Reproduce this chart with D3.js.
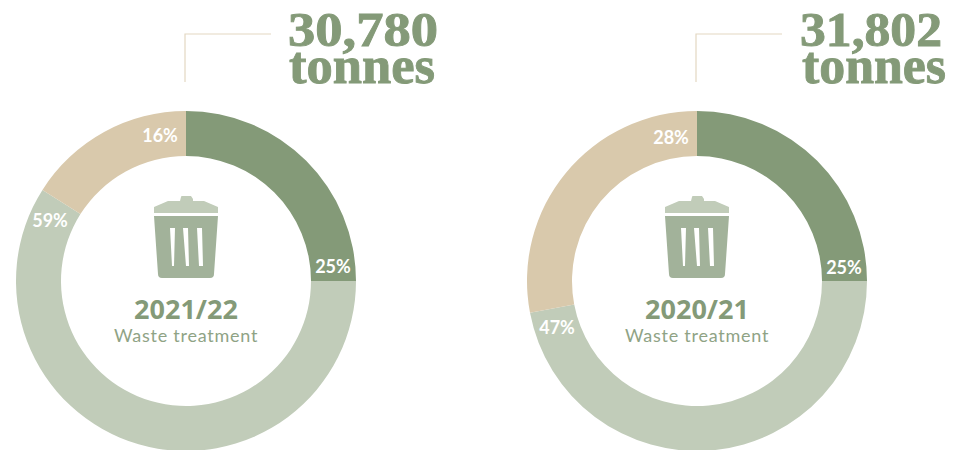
<!DOCTYPE html>
<html><head><meta charset="utf-8">
<script src="https://cdn.jsdelivr.net/npm/d3@7"></script>
<style>html,body{margin:0;padding:0;background:#fff}svg{display:block}</style>
</head><body><svg id="c" width="961" height="450"></svg>
<script>
const categories = ["Treatment A","Treatment B","Treatment C"];
const years = ["2021/22","2020/21"];
const caption = "Waste treatment";
const valuesA = [25,59,16];
const valuesB = [25,47,28];
const totals = ["30,780","31,802"];
const unit = "tonnes";
const colours = ["#849a78","#c1ccb9","#d9c9ac"];
const svg = d3.select("#c");
const R=170, r0=125;
const color = d3.scaleOrdinal(categories, colours);
const pie = d3.pie().sort(null);
const arc = d3.arc().innerRadius(r0).outerRadius(R);
function donut(cx, values, year, total, i){
  const g = svg.append("g").attr("transform",`translate(${cx},281)`);
  const arcs = pie(values);
  g.selectAll("path.s").data(arcs).join("path").attr("class","s")
    .attr("d",arc).attr("fill",(d,k)=>color(categories[k]));
  const lab = i===0
    ? [[147,-14],[-136,-60],[-26,-145]]
    : [[147,-13],[-140,47],[-26,-143]];
  g.selectAll("text.p").data(arcs).join("text").attr("class","p")
    .attr("x",(d,k)=>lab[k][0]).attr("y",(d,k)=>lab[k][1]+6)
    .attr("text-anchor","middle").attr("font-family","Lato, sans-serif")
    .attr("font-weight",700).attr("font-size",18).attr("fill","#fff")
    .text(d=>d.data+"%");
  g.append("path").attr("d","M85,-247H-1V-199").attr("fill","none").attr("stroke","#e3d8c2").attr("stroke-width",1.2);
  const t = g.append("g").attr("font-family","'Liberation Serif', serif").attr("font-weight",700)
    .attr("fill","#849a78").attr("stroke","#849a78").attr("stroke-width",0.9);
  t.append("text").attr("font-size",48).attr("x",i?103:102).attr("y",-235).attr("textLength",i?142:150).attr("lengthAdjust","spacingAndGlyphs").text(total);
  t.append("text").attr("font-size",52).attr("x",i?105:103).attr("y",-198).attr("textLength",i?144:146).attr("lengthAdjust","spacingAndGlyphs").text(unit);
  const ic = g.append("g");
  ic.append("path").attr("fill","#c1ccb9").attr("d","M-32,-72V-74L-18,-80H-6L-5,-84Q-5,-85 -4,-85H5L7,-82V-79H-1V-80H18L32,-74V-68H-32Z");
  ic.append("path").attr("fill","#a2b29a").attr("d","M-32,-65H32L28,-7Q28,-3 24,-3H-24Q-28,-3 -28,-7Z");
  ic.append("path").attr("fill","#fff").attr("d","M-16,-53H-11L-12,-15H-14ZM-3,-53H2L3,-15H0ZM11,-53H16L17,-15H13Z");
  g.append("text").attr("y",38).attr("text-anchor","middle").attr("font-family","'Open Sans', sans-serif").attr("font-weight",700).attr("font-size",27).attr("fill","#849a78").text(year);
  g.append("text").attr("y",61).attr("text-anchor","middle").attr("font-family","Lato, sans-serif").attr("font-size",18).attr("letter-spacing",0.75).attr("fill","#8fa385").text(caption);
}
donut(186,valuesA,years[0],totals[0],0);
donut(697,valuesB,years[1],totals[1],1);
</script></body></html>
